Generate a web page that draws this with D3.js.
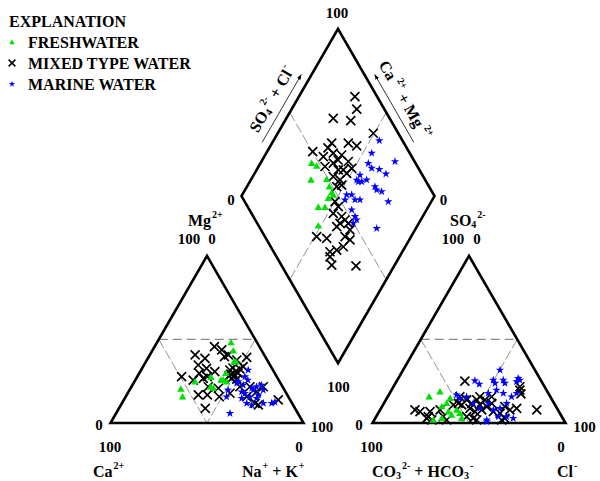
<!DOCTYPE html>
<html><head><meta charset="utf-8">
<script src="https://cdn.jsdelivr.net/npm/d3@7"></script>
<style>
body{margin:0;background:#fff}
text{font-family:"Liberation Serif","Times New Roman","DejaVu Serif",serif;font-weight:bold;fill:#000}
</style>
</head><body>
<svg id="c" width="600" height="481" font-family="Liberation Serif, Times New Roman, serif"></svg>
<script>
// ---------------- DATA ----------------
const categories = ["FRESHWATER", "MIXED TYPE WATER", "MARINE WATER"];
const scaleTicks = ["0", "100"];

// Cation triangle: [Mg %, Na+K %]
const cationFresh = [[48.1,38.4],[43.3,42.0],[36.7,45.7],[36.7,46.7],[29.7,44.9],[25.7,45.6],[24.7,47.8],[27.3,38.4],[24.7,31.4],[20.3,26.3],[15.7,29.5],[20.8,42.9],[25.7,44.4],[21.7,41.0]];
const cationMixed = [[45.7,31.0],[43.7,35.8],[40.7,23.5],[38.7,29.6],[39.7,39.2],[40.7,40.7],[39.3,50.9],[37.7,46.6],[34.7,28.1],[32.7,33.4],[30.7,38.7],[29.7,31.1],[27.7,36.3],[27.7,23.0],[25.7,30.0],[26.7,34.7],[21.7,39.8],[20.8,45.5],[16.8,37.1],[16.8,41.8],[15.7,48.5],[8.8,44.7],[31.7,46.0],[32.9,47.0],[31.1,49.4],[29.3,47.7],[28.7,50.1],[29.9,51.1],[26.9,49.4],[26.3,52.3],[28.1,47.3],[32.3,50.9],[33.7,51.9],[21.7,61.4],[18.7,66.3],[21.7,68.3],[11.8,69.0],[10.8,71.2],[13.8,80.0],[21.7,56.2],[17.8,53.0],[15.7,62.7]];
const cationMarine = [[31.7,55.5],[27.7,55.8],[24.7,53.8],[22.7,57.4],[20.9,62.8],[19.7,64.1],[21.7,64.8],[22.7,66.9],[19.7,69.3],[17.8,60.8],[15.7,64.4],[14.8,68.3],[11.8,64.7],[10.8,67.8],[11.8,73.3],[11.8,77.6],[12.6,78.9],[19.7,51.1],[15.7,52.3],[5.8,59.0],[23.8,53.5],[18.7,58.6],[16.8,68.2],[14.8,60.6],[25.7,58.3]];

// Anion triangle: [SO4 %, Cl %]
const anionFresh = [[15.7,21.5],[18.7,25.6],[14.8,32.8],[9.8,31.0],[6.8,35.9],[7.8,39.7],[5.8,42.4],[4.8,38.6],[2.8,44.8],[2.8,34.5],[1.8,30.6],[11.8,32.5]];
const anionMixed = [[25.1,35.3],[7.8,18.1],[6.8,21.2],[3.8,27.0],[1.8,29.8],[7.8,31.1],[3.8,34.8],[1.8,37.5],[10.8,36.5],[11.8,38.6],[13.8,41.9],[11.8,45.5],[13.8,47.1],[10.8,50.3],[8.8,46.1],[6.8,49.7],[7.8,52.7],[9.8,54.3],[11.8,55.9],[3.8,46.9],[2.8,50.8],[1.8,53.1],[6.8,59.2],[5.8,63.2],[9.8,63.7],[7.8,67.3],[2.8,67.2],[8.8,70.3],[21.7,65.5],[19.7,66.5],[17.4,68.2],[7.8,81.2],[15.7,37.4],[10.8,40.8],[15.7,47.8],[13.8,51.4],[15.7,53.9],[6.8,26.4],[2.8,26.7],[1.8,66.0]];
const anionMarine = [[25.3,40.4],[23.2,43.7],[25.7,49.7],[23.8,51.6],[31.7,50.2],[25.7,54.9],[23.8,56.7],[25.7,63.5],[24.7,62.3],[17.8,51.1],[19.7,54.4],[17.8,58.9],[16.8,35.2],[14.8,37.9],[15.7,40.9],[11.8,46.3],[8.8,51.3],[11.8,54.1],[7.8,58.7],[8.8,61.7],[11.8,63.6],[3.8,63.3],[3.8,67.6],[2.8,71.5],[1.8,58.3],[15.7,64.2],[17.8,65.8],[26.7,62.1],[0.8,58.8]];

// Diamond: [SO4+Cl %, Ca+Mg %]
const diamondFresh = [[46.2,73.5],[48.0,70.0],[40.8,68.8],[49.2,60.9],[48.3,57.3],[47.8,54.3],[44.3,54.4],[47.9,52.8],[36.5,56.9],[39.9,53.4],[30.9,51.3]];
const diamondMixed = [[88.5,71.0],[85.7,66.3],[70.8,75.7],[79.2,66.0],[87.1,50.5],[62.6,69.1],[71.2,60.5],[74.7,55.3],[50.2,76.4],[54.2,69.4],[60.4,65.3],[64.2,60.4],[65.7,55.0],[52.1,65.6],[57.4,62.3],[58.0,57.7],[60.6,55.1],[61.3,52.3],[65.4,51.2],[53.4,58.3],[55.9,53.8],[52.2,53.5],[55.2,51.4],[46.8,49.9],[47.0,46.7],[42.4,47.3],[45.8,42.0],[42.9,40.8],[40.2,41.5],[47.2,36.5],[46.1,33.7],[46.5,39.2],[26.8,48.9],[31.5,43.2],[43.1,30.7],[37.6,32.1],[29.2,37.5],[33.2,34.5],[26.1,32.6],[38.4,19.8],[27.7,36.0],[41.5,34.2],[60.8,60.8],[59.2,69.6]];
const diamondMarine = [[88.0,45.2],[80.3,45.4],[89.9,30.8],[75.5,44.1],[75.8,40.9],[79.4,36.6],[81.5,31.8],[67.7,44.9],[64.5,45.1],[66.6,42.0],[69.7,40.0],[72.0,33.7],[71.9,31.8],[74.0,28.7],[74.4,22.3],[54.9,45.9],[57.5,43.3],[52.5,45.2],[57.7,40.1],[60.3,37.5],[53.0,38.8],[52.7,35.1],[52.6,33.2],[49.8,33.9],[60.4,20.3],[64.8,43.8]];

// ---------------- LAYOUT ----------------
const svg = d3.select("#c");
const SQ3 = Math.sqrt(3) / 2;
const S = 193, H = S * SQ3;
const LX = 110.5, RX = 372.5, BY = 423;
const DX = (LX + S + RX) / 2, DY = BY - (RX - LX - S) * SQ3;

const len = d3.scaleLinear().domain([0, 100]).range([0, S]);
const hgt = d3.scaleLinear().domain([0, 100]).range([0, H]);
const cat = (m, n) => [LX + len(n) + len(m) / 2, BY - hgt(m)];
const ani = (s, c) => [RX + len(c) + len(s) / 2, BY - hgt(s)];
const dia = (a, c) => [DX + len(a - c) / 2, DY - hgt(a + c)];

const line = d3.line();

// dashed guide lines
const gDash = svg.append("g");
function dash(p, q, style) {
  gDash.append("path").attr("d", line([p, q])).attr("fill", "none")
    .attr("stroke", style.c).attr("stroke-width", style.w).attr("stroke-dasharray", style.d);
}
const longDash = {c: "#8a8a8a", w: 1.3, d: "9,5"};
const thinDash = {c: "#777", w: 0.8, d: "10,3"};
[cat, ani].forEach(f => {
  dash(f(50, 0), f(50, 50), longDash);
  dash(f(50, 0), f(0, 50), thinDash);
  dash(f(50, 50), f(0, 50), thinDash);
});
dash(dia(50, 100), dia(50, 0), thinDash);
dash(dia(100, 50), dia(0, 50), thinDash);

// outlines
const gOut = svg.append("g").attr("fill", "none").attr("stroke", "#000")
  .attr("stroke-width", 2.6).attr("stroke-linejoin", "miter");
gOut.append("path").attr("d", line([cat(0, 0), cat(0, 100), cat(100, 0)]) + "Z");
gOut.append("path").attr("d", line([ani(0, 0), ani(0, 100), ani(100, 0)]) + "Z");
gOut.append("path").attr("d", line([dia(0, 0), dia(100, 0), dia(100, 100), dia(0, 100)]) + "Z");

// ---------------- MARKERS ----------------
const styles = {
  "FRESHWATER": {type: "tri", color: "#00e000"},
  "MIXED TYPE WATER": {type: "x", color: "#000"},
  "MARINE WATER": {type: "star", color: "#0000ff"}
};
function drawMarker(g, x, y, st, k) {
  if (st.type === "x") {
    const r = 4.5 * k;
    g.append("path").attr("d", `M${x-r},${y-r}L${x+r},${y+r}M${x-r},${y+r}L${x+r},${y-r}`)
      .attr("stroke", st.color).attr("stroke-width", 1.7 * (k < 1 ? 0.9 : 1)).attr("fill", "none");
  } else if (st.type === "tri") {
    g.append("path").attr("d", d3.symbol(d3.symbolTriangle, 24 * k * k)())
      .attr("transform", `translate(${x},${y + 0.6})`).attr("fill", st.color);
  } else {
    g.append("path").attr("d", d3.symbol(d3.symbolStar, 22 * k * k)())
      .attr("transform", `translate(${x},${y})`).attr("fill", st.color);
  }
}
const seriesData = [
  {name: categories[1], sets: [[cationMixed, cat], [anionMixed, ani], [diamondMixed, dia]]},
  {name: categories[2], sets: [[cationMarine, cat], [anionMarine, ani], [diamondMarine, dia]]},
  {name: categories[0], sets: [[cationFresh, cat], [anionFresh, ani], [diamondFresh, dia]]}
];
const gPts = svg.append("g");
seriesData.forEach(s => {
  const st = styles[s.name];
  const g = gPts.append("g");
  s.sets.forEach(([arr, f]) => arr.forEach(d => {
    const [x, y] = f(d[0], d[1]);
    drawMarker(g, x, y, st, 1);
  }));
});

// ---------------- TEXT ----------------
function rich(x, y, parts, opt = {}) {
  const fs = opt.fs || 16, small = opt.small || 10;
  const t = svg.append("text").attr("x", x).attr("y", y)
    .attr("font-size", fs).attr("text-anchor", opt.anchor || "start");
  if (opt.transform) t.attr("transform", opt.transform);
  let cur = 0;
  parts.forEach(([txt, kind]) => {
    const target = kind === 1 ? -8 : kind === 2 ? 2 : 0;
    const ts = t.append("tspan").text(txt).attr("dy", target - cur)
      .attr("font-size", kind ? small : fs);
    if (kind === 1) ts.attr("dx", 1);
    cur = target;
  });
  return t;
}
const num = (x, y, s, anchor = "middle") =>
  svg.append("text").attr("x", x).attr("y", y).attr("font-size", 15)
    .attr("text-anchor", anchor).text(s);

const [t0, t100] = [scaleTicks[0], scaleTicks[1]];
// diamond numbers
num(dia(100, 100)[0] - 1, 18, t100);
num(dia(0, 0)[0] + 0.5, 392, t100);
num(dia(0, 100)[0] - 10.5, 205, t0);
num(dia(100, 0)[0] + 9, 205, t0);
// apex labels
num(189, 244, t100); num(212, 244, t0);
num(453, 244, t100); num(477, 244, t0);
rich(188, 226, [["Mg", 0], ["2+", 1]]);
rich(450, 226, [["SO", 0], ["4", 2], ["2-", 1]]);
// cation triangle numbers
num(99, 430, t0); num(110, 452, t100); num(299, 452, t0); num(322, 432, t100);
// anion triangle numbers
num(359, 430, t0); num(371.5, 452, t100); num(561, 452, t0); num(584.5, 432, t100);
// bottom labels
rich(93, 477, [["Ca", 0], ["2+", 1]]);
rich(242, 477, [["Na", 0], ["+", 1], [" + K", 0], ["+", 1]]);
rich(372, 477, [["CO", 0], ["3", 2], ["2-", 1], [" + HCO", 0], ["3", 2], ["-", 1]]);
rich(557, 477, [["Cl", 0], ["-", 1]]);

// diamond side labels with arrows
svg.append("defs").append("marker").attr("id", "ah").attr("viewBox", "0 0 10 10")
  .attr("refX", 9).attr("refY", 5).attr("markerWidth", 7).attr("markerHeight", 7)
  .attr("orient", "auto").append("path").attr("d", "M0,1.5L10,5L0,8.5Z").attr("fill", "#000");

function along(p0, p1, t, off, nrm) {
  const dx = (p1[0] - p0[0]) / S, dy = (p1[1] - p0[1]) / S;
  return [p0[0] + dx * t + nrm[0] * off, p0[1] + dy * t + nrm[1] * off];
}
const Lv = dia(0, 100), Tv = dia(100, 100), Rv = dia(100, 0);
const nL = [-SQ3, -0.5], nR = [SQ3, -0.5];
svg.append("path").attr("d", line([along(Lv, Tv, 57, 9, nL), along(Lv, Tv, 135, 9, nL)]))
  .attr("stroke", "#000").attr("stroke-width", 0.8).attr("marker-end", "url(#ah)");
svg.append("path").attr("d", line([along(Tv, Rv, 136, 9, nR), along(Tv, Rv, 58, 9, nR)]))
  .attr("stroke", "#000").attr("stroke-width", 0.8).attr("marker-end", "url(#ah)");
const cL = along(Lv, Tv, 99, 17, nL);
rich(0, 0, [["SO", 0], ["4", 2], ["2-", 1], [" + Cl", 0], ["-", 1]],
  {anchor: "middle", fs: 16, transform: `translate(${cL[0]},${cL[1]}) rotate(-60)`});
const cR = along(Tv, Rv, 95, 17, nR);
rich(0, 0, [["Ca", 0], [" 2+", 1], [" + Mg", 0], [" 2+", 1]],
  {anchor: "middle", fs: 16, transform: `translate(${cR[0]},${cR[1]}) rotate(60)`});

// ---------------- LEGEND ----------------
svg.append("text").attr("x", 9).attr("y", 27).attr("font-size", 16).text("EXPLANATION");
const legY = d3.scalePoint().domain(categories).range([48, 90]);
categories.forEach(c => {
  svg.append("text").attr("x", 28).attr("y", legY(c)).attr("font-size", 16).text(c);
  drawMarker(svg, 12, legY(c) - 6, styles[c], 0.75);
});
</script>
</body></html>
